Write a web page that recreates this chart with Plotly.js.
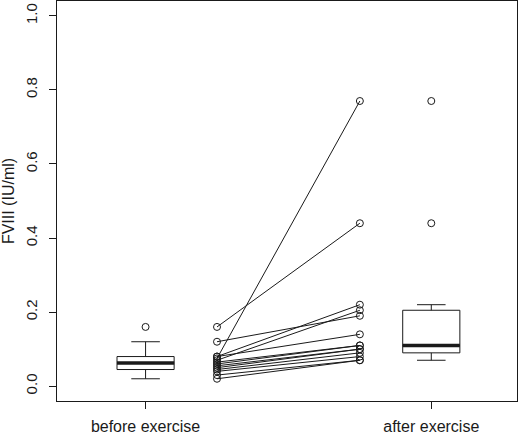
<!DOCTYPE html>
<html>
<head>
<meta charset="utf-8">
<script src="https://cdn.plot.ly/plotly-3.0.1.min.js"></script>
<style>
  html, body { margin: 0; padding: 0; background: #fff; }
  #chart { width: 520px; height: 434px; }
</style>
</head>
<body>
<div id="chart"></div>
<script>
// FVIII before / after exercise, one value per subject (paired by index)
const before = [0.16, 0.12, 0.075, 0.08, 0.07, 0.08, 0.065, 0.06, 0.055, 0.05, 0.045, 0.04, 0.03, 0.02];
const after  = [0.44, 0.19, 0.77, 0.22, 0.205, 0.14, 0.11, 0.11, 0.10, 0.10, 0.09, 0.08, 0.07, 0.07];

const groupPos    = [1, 2];
const groupLabels = ["before exercise", "after exercise"];
const pairPos     = [1.25, 1.75];

const yTicks = [0, 0.2, 0.4, 0.6, 0.8, 1.0];

const INK = "#1a1a1a";
const FONT = "Liberation Sans, Arial, sans-serif";
const BOX_W = 0.2;

function median(v) {
  const s = [...v].sort((a, b) => a - b);
  const m = Math.floor(s.length / 2);
  return s.length % 2 ? s[m] : (s[m - 1] + s[m]) / 2;
}

const boxStyle = {
  type: "box",
  boxpoints: "outliers",
  quartilemethod: "exclusive",
  width: BOX_W,
  whiskerwidth: 0.5,
  fillcolor: "#ffffff",
  line: { color: INK, width: 1 },
  marker: { symbol: "circle-open", size: 7, color: INK, line: { width: 1 } },
  hoverinfo: "y",
  showlegend: false,
};

const traces = [
  { ...boxStyle, x: before.map(() => groupPos[0]), y: before },
  { ...boxStyle, x: after.map(() => groupPos[1]), y: after },
];

// thick median bars, like R's boxplot
[before, after].forEach((vals, i) => {
  const m = median(vals);
  traces.push({
    type: "scatter", mode: "lines",
    x: [groupPos[i] - BOX_W / 2, groupPos[i] + BOX_W / 2], y: [m, m],
    line: { color: INK, width: 3.5 },
    hoverinfo: "skip", showlegend: false,
  });
});

// paired lines: one segment per subject
const px = [], py = [];
before.forEach((b, i) => {
  px.push(pairPos[0], pairPos[1], null);
  py.push(b, after[i], null);
});
traces.push({
  type: "scatter", mode: "lines+markers",
  x: px, y: py,
  line: { color: INK, width: 1 },
  marker: { symbol: "circle-open", size: 7, color: INK, line: { width: 1 } },
  hoverinfo: "y", showlegend: false,
});

const layout = {
  width: 520, height: 434,
  margin: { l: 57, r: 3, t: 1, b: 33 },
  paper_bgcolor: "#fff", plot_bgcolor: "#fff",
  font: { family: FONT, size: 15, color: INK },
  showlegend: false,
  xaxis: {
    range: [0.69, 2.30],
    tickvals: groupPos, ticktext: groupLabels,
    tickfont: { size: 16 },
    ticks: "outside", ticklen: 7, tickcolor: INK, tickwidth: 1,
    ticklabelstandoff: 4,
    showline: true, linecolor: INK, linewidth: 1, mirror: true,
    showgrid: false, zeroline: false, fixedrange: true,
  },
  yaxis: {
    range: [-0.04, 1.04],
    tickvals: yTicks, tickformat: ".1f",
    tickangle: -90,
    ticks: "outside", ticklen: 7, tickcolor: INK, tickwidth: 1,
    ticklabelstandoff: 6,
    title: { text: "FVIII (IU/ml)", font: { size: 16, color: INK }, standoff: 6 },
    showline: true, linecolor: INK, linewidth: 1, mirror: true,
    showgrid: false, zeroline: false, fixedrange: true,
  },
};

Plotly.newPlot("chart", traces, layout, { displayModeBar: false, staticPlot: true });
</script>
</body>
</html>
